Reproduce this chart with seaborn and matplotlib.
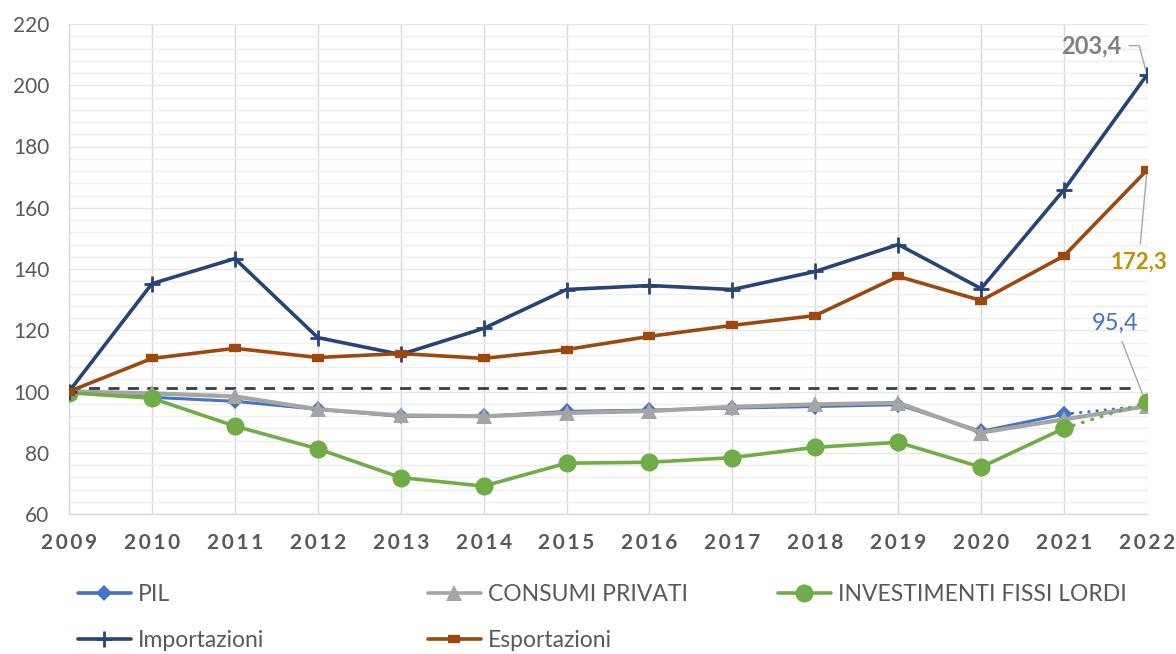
import matplotlib
matplotlib.use("Agg")
import matplotlib.pyplot as plt
from matplotlib.lines import Line2D
from matplotlib.ticker import MultipleLocator
import seaborn as sns

# --- dati (numeri indice, 2009 = 100) ---
anni = list(range(2009, 2023))
pil = [100.0, 98.1, 96.8, 94.2, 91.9, 91.9, 93.5, 93.9, 94.6, 95.1, 95.7, 87.0, 92.6, 95.4]
consumi = [100.0, 99.4, 98.4, 94.2, 92.2, 91.9, 93.0, 93.6, 95.0, 95.8, 96.3, 86.6, 90.9, 95.2]
investimenti = [99.6, 97.8, 88.7, 81.3, 71.9, 69.1, 76.6, 76.9, 78.4, 81.8, 83.4, 75.3, 88.0, 96.5]
importazioni = [100.0, 135.2, 143.4, 117.6, 112.1, 120.6, 133.3, 134.6, 133.3, 139.2, 148.0, 133.6, 165.9, 203.4]
esportazioni = [100.0, 110.8, 114.1, 111.1, 112.4, 110.8, 113.7, 118.0, 121.6, 124.8, 137.6, 129.7, 144.3, 172.3]
riferimento = 101.2

etichette_y = [60, 80, 100, 120, 140, 160, 180, 200, 220]

BLU = "#4472C4"
GRIGIO = "#A5A5A5"
VERDE = "#70AD47"
BLU_SCURO = "#264478"
MARRONE = "#9E480E"
TESTO = "#595959"

sns.set_theme(style="white")
plt.rcParams["font.family"] = ["Lato", "DejaVu Sans"]

fig = plt.figure(figsize=(11.76, 6.54), dpi=100)
ax = fig.add_axes([69 / 1176, 1 - 514 / 654, (1147 - 69) / 1176, (514 - 24) / 654])

# griglia
ax.set_xlim(2009, 2022)
ax.set_ylim(60, 220)
ax.set_xticks(anni)
ax.set_yticks(etichette_y)
ax.yaxis.set_minor_locator(MultipleLocator(4))
ax.grid(axis="x", which="major", color="#D9D9D9", lw=1)
ax.grid(axis="y", which="major", color="#E6E6E6", lw=1)
ax.grid(axis="y", which="minor", color="#EEEEEE", lw=1)
ax.set_axisbelow(True)
for lato in ["top", "right"]:
    ax.spines[lato].set_visible(False)
for lato in ["left", "bottom"]:
    ax.spines[lato].set_color("#D9D9D9")
    ax.spines[lato].set_linewidth(1)

# linea tratteggiata di riferimento
ax.axhline(riferimento, xmin=0, xmax=0.99, color="#333F50", lw=2, ls=(0, (4, 3)), zorder=2)

punteggiato = dict(linestyle=(0, (0.1, 2.6)), dash_capstyle="round")


def traccia(valori, colore, marker, ms, lw, mew=0, punti_finali=False, z=3):
    stile = dict(color=colore, marker=marker, markersize=ms, linewidth=lw,
                 markeredgewidth=mew, markeredgecolor=colore,
                 markerfacecolor=colore, legend=False, zorder=z)
    if punti_finali:
        sns.lineplot(x=anni[:-1], y=valori[:-1], ax=ax, **stile)
        sns.lineplot(x=anni[-2:], y=valori[-2:], ax=ax, **{**stile, **punteggiato})
    else:
        sns.lineplot(x=anni, y=valori, ax=ax, **stile)


traccia(pil, BLU, "D", 8, 2.2, punti_finali=True, z=3)
traccia(consumi, GRIGIO, "^", 11, 3, z=4)
traccia(investimenti, VERDE, "o", 13, 2.6, punti_finali=True, z=5)
traccia(importazioni, BLU_SCURO, "+", 12, 2.6, mew=2, z=6)
traccia(esportazioni, MARRONE, "_", 9, 2.6, mew=6, z=7)

# etichette degli assi
ax.tick_params(axis="both", length=0)
ax.set_yticklabels([str(v) for v in etichette_y], fontsize=15, color=TESTO)
ax.set_xticklabels(["\u2009".join(str(a)) for a in anni], fontsize=15,
                   color=TESTO, fontweight="bold")
ax.tick_params(axis="x", pad=14)
ax.tick_params(axis="y", pad=14)
ax.set_xlabel("")
ax.set_ylabel("")

# etichette dei dati
linea = dict(arrowstyle="-", color="#A6A6A6", lw=1, shrinkA=3, shrinkB=2)
ax.annotate("203,4", xy=(anni[-1], importazioni[-1]), xytext=(-40, 21),
            textcoords="offset points", fontsize=17, fontweight="bold", color="#808080",
            ha="center", va="center", annotation_clip=False,
            arrowprops={**linea, "connectionstyle": "angle,angleA=0,angleB=105,rad=0"})
ax.annotate("172,3", xy=(anni[-1], esportazioni[-1]), xytext=(-6, -66),
            textcoords="offset points", fontsize=16, fontweight="bold", color="#BF9000",
            ha="center", va="center", annotation_clip=False,
            arrowprops=linea)
ax.annotate("95,4", xy=(anni[-1], pil[-1]), xytext=(-23, 59),
            textcoords="offset points", fontsize=17, color=BLU,
            ha="center", va="center", annotation_clip=False,
            arrowprops={**linea, "shrinkB": 6})

# legenda
def voce(colore, marker, ms, mew=0):
    return Line2D([], [], color=colore, lw=2.6, marker=marker, markersize=ms,
                  markeredgewidth=mew, markeredgecolor=colore, markerfacecolor=colore)


stile_leg = dict(frameon=False, fontsize=16.5, labelcolor=TESTO, handlelength=2.3,
                 handletextpad=0.3, labelspacing=1.1, borderaxespad=0, borderpad=0)
colonne = [
    (78, [voce(BLU, "D", 8), voce(BLU_SCURO, "+", 12, 2)], ["PIL", "Importazioni"]),
    (428, [voce(GRIGIO, "^", 11), voce(MARRONE, "_", 9, 6)], ["CONSUMI PRIVATI", "Esportazioni"]),
    (778, [voce(VERDE, "o", 13)], ["INVESTIMENTI FISSI LORDI"]),
]
for x_pix, maniglie, nomi in colonne:
    fig.legend(maniglie, nomi, loc="upper left",
               bbox_to_anchor=(x_pix / 1176, 1 - 584 / 654), **stile_leg)

fig.savefig("out.png", dpi=100)
